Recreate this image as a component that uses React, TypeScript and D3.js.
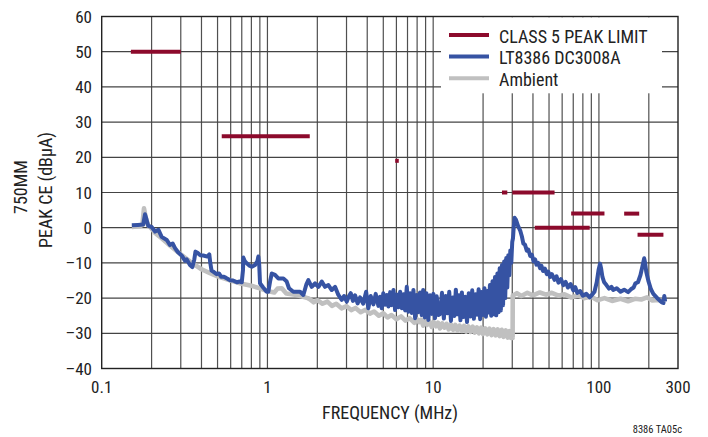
import React from "react";
import * as d3 from "d3";

const W = 708;
const H = 437;

const yTicks = [60, 50, 40, 30, 20, 10, 0, -10, -20, -30, -40];
const xTickLabels = [0.1, 1, 10, 100, 300];
const xGrid = [0.2, 0.3, 0.4, 0.5, 0.6, 0.7, 0.8, 0.9, 1, 2, 3, 4, 5, 6, 7, 8, 9, 10, 20, 30, 40, 50, 60, 70, 80, 90, 100, 200];

// CLASS 5 PEAK LIMIT segments: [fStart, fEnd, level]
const limitBands: [number, number, number][] = [
  [0.15, 0.3, 50],
  [0.53, 1.8, 26],
  [5.9, 6.2, 19],
  [26, 28, 10],
  [30, 54, 10],
  [41, 88, 0],
  [68, 108, 4],
  [142, 175, 4],
  [171, 245, -2],
];

const lt8386: [number, number][] = [
  [0.152, 0.7], [0.165, 0.8], [0.178, 0.9], [0.1825, 3.8], [0.186, 2.5], [0.191, 0.5], [0.2, 0.2],
  [0.21, -1.1], [0.22, -0.6], [0.23, -2.6], [0.247, -3.5], [0.258, -4.9], [0.268, -4.5], [0.277, -5.8],
  [0.288, -6.9], [0.305, -8], [0.318, -9.4], [0.326, -9.0], [0.341, -10.6], [0.352, -11.2], [0.362, -9],
  [0.368, -6.8], [0.38, -7.2], [0.392, -7.8], [0.41, -7.9], [0.434, -8.2], [0.446, -7.6], [0.452, -10],
  [0.46, -12.2], [0.475, -12.6], [0.494, -13.2], [0.51, -13.0], [0.525, -13.9], [0.542, -13.9], [0.56, -14.2],
  [0.595, -14.9], [0.62, -15.0], [0.653, -15.5], [0.68, -15.3], [0.7, -15.5], [0.712, -12], [0.716, -8.5],
  [0.73, -9.5], [0.75, -10.1], [0.78, -10.8], [0.804, -11.1], [0.842, -10.6], [0.87, -9.5], [0.881, -8.2],
  [0.892, -10.5], [0.902, -15.8], [0.94, -16.9], [0.99, -18.2], [1.013, -18.2], [1.04, -15], [1.062, -13],
  [1.111, -13.4], [1.163, -14.4], [1.247, -14.4], [1.307, -15.3], [1.349, -17.2], [1.433, -18.2], [1.573, -18.2],
  [1.647, -19.1], [1.72, -16], [1.765, -14.9], [1.85, -16.8], [1.937, -15.8], [2.03, -16.8], [2.127, -15.3],
  [2.227, -16.8], [2.332, -16.3], [2.443, -17.7], [2.558, -16.8], [2.679, -19.1], [2.807, -20.5], [2.9, -19.4],
  [3.01, -21], [3.1, -19.5], [3.18, -18.6], [3.28, -20.8], [3.38, -19.2], [3.5, -21.5], [3.62, -19.8], [3.78, -21.6],
  [3.94, -18.2], [4.06, -22.9], [4.2, -19.4], [4.36, -21.8], [4.5, -18.8], [4.67, -22.2], [4.78, -19.6], [4.89, -22.9],
  [5.0, -18.6], [5.12, -21.9], [5.25, -19.1], [5.37, -22.4], [5.5, -18.3], [5.63, -22.0], [5.76, -17.7], [5.89, -23.4],
  [6.03, -19.0], [6.17, -22.6], [6.32, -18.2], [6.47, -22.9], [6.62, -18.9], [6.77, -23.5], [6.93, -16.8], [7.09, -23.9],
  [7.26, -18.6], [7.43, -24.2], [7.6, -17.7], [7.78, -25.7], [7.96, -19.1], [8.14, -24.0], [8.33, -18.4], [8.53, -24.8],
  [8.7, -17.7], [8.9, -25.5], [9.1, -18.6], [9.35, -26.2], [9.58, -19.2], [9.81, -24.5], [10.03, -18.8], [10.26, -25.7],
  [10.5, -19.5], [10.75, -24.8], [11.0, -24.5], [11.3, -18.5], [11.6, -25.8], [11.9, -19.4], [12.2, -24.3], [12.5, -18.2],
  [12.8, -26.5], [13.1, -19.8], [13.4, -25.1], [13.7, -17.6], [14.0, -24.6], [14.3, -19.2], [14.6, -26.3], [14.9, -18.4],
  [15.2, -25.4], [15.6, -19.6], [16.0, -26.8], [16.4, -18.6], [16.8, -25.2], [17.2, -17.8], [17.6, -25.9], [18.0, -18.9],
  [18.4, -24.7], [18.8, -17.5], [19.2, -26.0], [19.6, -18.3], [20.0, -24.8], [20.4, -17.2], [20.8, -25.3], [21.2, -18.0],
  [21.6, -24.1], [22.0, -16.3], [22.4, -25.0], [22.8, -15.2], [23.2, -24.6], [23.6, -14.0], [24.0, -24.9], [24.4, -13.0],
  [24.8, -24.0], [25.2, -11.5], [25.6, -23.5], [26.0, -10.6], [26.4, -22.0], [26.8, -9.6], [27.2, -20.0], [27.6, -8.6],
  [28.0, -17.0], [28.4, -7.8], [28.8, -13.5], [29.2, -6.5], [29.6, -10.0], [30.0, -4.0], [30.3, -3], [30.6, 0],
  [31.0, 2.8], [31.6, 2.2], [32.5, 0.5], [33.5, -0.8], [34.3, -2.5], [35, -4.5], [35.8, -4.8], [36.7, -6.5],
  [37.5, -6.2], [38.5, -8], [39.4, -7.7], [40.3, -9.5], [41.2, -9], [42, -10.5], [43, -10], [44.2, -11.5],
  [45, -10.8], [46, -12.3], [47.2, -11.6], [48.5, -13.2], [49.5, -12.5], [50.8, -14], [52, -13.2], [54, -14.8],
  [55.5, -13.8], [57, -15.6], [59, -14.6], [61, -16.3], [63, -15.4], [65, -17], [67.5, -16], [70, -17.8],
  [72, -16.9], [74, -18.5], [77, -18], [80, -19.3], [84, -18.8], [88, -19.8], [91, -19], [94, -18.2],
  [97, -15.5], [99.5, -12], [101.6, -10.2], [103, -11.5], [105, -14], [107.6, -15.5], [111, -16.3], [115, -17.3],
  [119, -16.8], [122, -17.7], [128, -17.2], [135, -18.2], [142, -17.6], [150, -18.3], [156, -17.5], [162, -17],
  [166, -15.8], [172, -15.5], [178, -13.5], [183, -11], [187.5, -8.7], [190, -10], [193, -12.5], [199, -15.2],
  [206, -17.5], [213, -18.8], [220, -19.5], [227, -20.2], [234, -20.8], [240, -21.2], [245, -21.4], [248, -19.4],
  [251, -21],
];

const ambient: [number, number][] = [
  [0.152, 0.2], [0.17, 0.4], [0.176, 0.8], [0.18, 5.5], [0.184, 3], [0.19, 0.8], [0.2, -0.3], [0.21, -1.5],
  [0.23, -3], [0.26, -5.2], [0.3, -7.6], [0.35, -10], [0.4, -11.8], [0.45, -12.9], [0.5, -13.8], [0.6, -15],
  [0.7, -15.9], [0.8, -16.5], [0.9, -17.2], [1.0, -18.0], [1.1, -18.4], [1.15, -17.3], [1.22, -17.2], [1.3, -18.7],
  [1.5, -19.1], [1.75, -20], [1.8, -20.3], [1.9, -21.2], [2.0, -20.6], [2.15, -21.6], [2.3, -21], [2.45, -22.2],
  [2.6, -21.6], [2.8, -22.9], [3.0, -22.3], [3.2, -23.4], [3.4, -22.8], [3.65, -24], [3.9, -23.3], [4.15, -24.4],
  [4.4, -23.8], [4.7, -25], [5.0, -24.3], [5.3, -25.5], [5.6, -24.8], [6.0, -26], [6.4, -25.2], [6.8, -26.4],
  [7.2, -25.7], [7.7, -27], [7.95, -25.9], [8.2, -26.8], [8.45, -26.1], [8.7, -27.8], [8.95, -26.4], [9.2, -27.6],
  [9.5, -26.6], [9.8, -28.2], [10.1, -26.9], [10.4, -28], [10.7, -27], [11, -28.6], [11.35, -27.2], [11.7, -28.4],
  [12.05, -27.3], [12.4, -28.9], [12.8, -27.5], [13.2, -29], [13.6, -27.6], [14, -29.2], [14.45, -27.8], [14.9, -29.3],
  [15.35, -27.9], [15.8, -29.5], [16.3, -28], [16.8, -29.6], [17.3, -28.1], [17.8, -29.8], [18.35, -28.3], [18.9, -30],
  [19.45, -28.4], [20, -30.2], [20.6, -28.6], [21.2, -30.3], [21.85, -28.7], [22.5, -30.5], [23.15, -28.8], [23.8, -30.6],
  [24.5, -28.9], [25.2, -30.8], [25.9, -29], [26.6, -31], [27.4, -29.2], [28.2, -31.2], [28.85, -29.4], [29.5, -31.3],
  [30.1, -30], [30.15, -31.3], [30.2, -19.3], [32, -18.6], [34, -19.4], [37, -18.5], [40, -19.2], [44, -18.4],
  [48, -19], [52, -18.5], [57, -19.3], [62, -18.9], [68, -19.8], [75, -19.2], [82, -20], [90, -19.6],
  [98, -20.6], [108, -20], [120, -20.8], [135, -20.2], [150, -20.9], [165, -20.2], [180, -20.4], [195, -19.8],
  [210, -20.7], [230, -20.5], [250, -21.2],
];

const legendItems = [
  { label: "CLASS 5 PEAK LIMIT", color: "#8c0a2c" },
  { label: "LT8386 DC3008A", color: "#3653a3" },
  { label: "Ambient", color: "#c0c0c0" },
];

const FONT = "'Liberation Sans Narrow', 'Roboto Condensed', 'DejaVu Sans Condensed', 'Liberation Sans', sans-serif";

export default function App() {
  const x = d3.scaleLog().domain([0.1, 300]).range([101.7, 678]);
  const y = d3.scaleLinear().domain([-40, 60]).range([368.5, 16.5]);
  const line = d3
    .line<[number, number]>()
    .x((d) => x(d[0]))
    .y((d) => y(d[1]));
  const left = x(0.1);
  const right = x(300);
  const top = y(60);
  const bottom = y(-40);

  return (
    <svg
      width={W}
      height={H}
      style={{ position: "absolute", left: 0, top: 0, background: "#fff" }}
      fontFamily={FONT}
    >
      <rect x={0} y={0} width={W} height={H} fill="#fff" />
      {xGrid.map((f) => (
        <line key={"vx" + f} x1={x(f)} x2={x(f)} y1={top} y2={bottom} stroke="#505050" strokeWidth={1.2} />
      ))}
      {yTicks.slice(1, -1).map((v) => (
        <line key={"hy" + v} x1={left} x2={right} y1={y(v)} y2={y(v)} stroke="#444" strokeWidth={1.2} />
      ))}
      {/* legend background */}
      <rect x={441} y={top + 0.8} width={221} height={76} fill="#fff" />
      <rect x={left} y={top} width={right - left} height={bottom - top} fill="none" stroke="#222" strokeWidth={1.4} />

      <path d={line(ambient) || ""} fill="none" stroke="#c0c0c0" strokeWidth={4.6} strokeLinejoin="round" />
      <path d={line(lt8386) || ""} fill="none" stroke="#3653a3" strokeWidth={4} strokeLinejoin="round" />
      {limitBands.map(([a, b, v], i) => (
        <line key={"lim" + i} x1={x(a)} x2={x(b)} y1={y(v)} y2={y(v)} stroke="#8c0a2c" strokeWidth={4} />
      ))}

      {yTicks.map((v) => (
        <text key={"yt" + v} x={92} y={y(v) + 6} textAnchor="end" fontSize={17} fill="#222">
          {v < 0 ? "–" + Math.abs(v) : String(v)}
        </text>
      ))}
      {xTickLabels.map((f) => (
        <text key={"xt" + f} x={x(f)} y={393} textAnchor="middle" fontSize={17} fill="#222">
          {String(f)}
        </text>
      ))}
      <text x={390} y={419} textAnchor="middle" fontSize={18} fill="#222">
        FREQUENCY (MHz)
      </text>
      <text transform="translate(26.5,187) rotate(-90)" textAnchor="middle" fontSize={18} fill="#222">
        750MM
      </text>
      <text transform="translate(51.5,190) rotate(-90)" textAnchor="middle" fontSize={18} fill="#222">
        PEAK CE (dBµA)
      </text>

      {legendItems.map((it, i) => (
        <g key={it.label}>
          <line x1={449} x2={489} y1={35 + i * 21.6} y2={35 + i * 21.6} stroke={it.color} strokeWidth={4} />
          <text x={499} y={42.5 + i * 21.6} fontSize={18} fill="#222">
            {it.label}
          </text>
        </g>
      ))}
      <text x={682} y={433} textAnchor="end" fontSize={10.5} fill="#222">
        8386 TA05c
      </text>
    </svg>
  );
}
